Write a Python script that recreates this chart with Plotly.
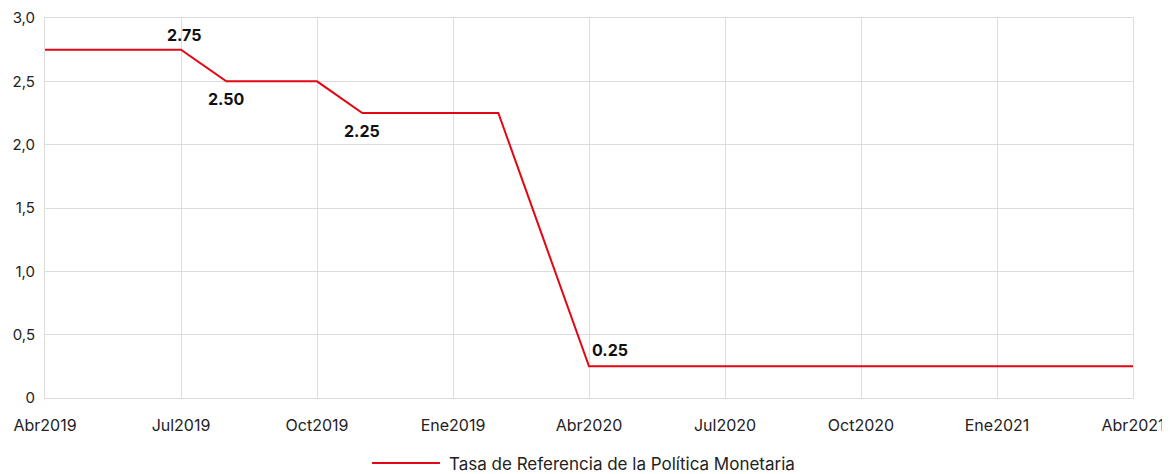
import plotly.graph_objects as go

months = ["Abr2019", "May2019", "Jun2019", "Jul2019", "Ago2019", "Sep2019", "Oct2019",
          "Nov2019", "Dic2019", "Ene2020", "Feb2020", "Mar2020", "Abr2020", "May2020",
          "Jun2020", "Jul2020", "Ago2020", "Sep2020", "Oct2020", "Nov2020", "Dic2020",
          "Ene2021", "Feb2021", "Mar2021", "Abr2021"]
rate = [2.75, 2.75, 2.75, 2.75, 2.50, 2.50, 2.50,
        2.25, 2.25, 2.25, 2.25, 1.25, 0.25, 0.25,
        0.25, 0.25, 0.25, 0.25, 0.25, 0.25, 0.25,
        0.25, 0.25, 0.25, 0.25]
tick_idx = [0, 3, 6, 9, 12, 15, 18, 21, 24]
tick_text = ["Abr2019", "Jul2019", "Oct2019", "Ene2019", "Abr2020", "Jul2020", "Oct2020", "Ene2021", "Abr2021"]
y_ticks = [0, 0.5, 1.0, 1.5, 2.0, 2.5, 3.0]
y_text = ["0", "0,5", "1,0", "1,5", "2,0", "2,5", "3,0"]
label_idx = [3, 4, 7, 12]
label_text = ["2.75", "2.50", "2.25", "0.25"]
label_pos = ["top", "bottom", "bottom", "topright"]
series_name = "Tasa de Referencia de la Política Monetaria"

x = list(range(len(months)))
FONT = "Inter, Lato, sans-serif"
RED = "#e30613"
GRID = "#dcdcdc"

fig = go.Figure()
fig.add_trace(go.Scatter(
    x=x, y=rate, mode="lines", name=series_name, showlegend=False,
    line=dict(color=RED, width=2), hoverinfo="skip"))

for i, t, p in zip(label_idx, label_text, label_pos):
    if p == "top":
        xs, ys, xa, ya = 3, 3, "center", "bottom"
    elif p == "bottom":
        xs, ys, xa, ya = 0, -6, "center", "top"
    else:
        xs, ys, xa, ya = 1, 4, "left", "bottom"
    fig.add_annotation(x=x[i], y=rate[i], text=f"<b>{t}</b>", showarrow=False,
                       xshift=xs, yshift=ys, xanchor=xa, yanchor=ya,
                       font=dict(family=FONT, size=16, color="#111111"))

# legend replica (wider line sample than plotly's native legend)
fig.add_shape(type="line", xref="paper", yref="paper",
              x0=0.3006, x1=0.363, y0=-0.171, y1=-0.171,
              line=dict(color=RED, width=2))
fig.add_annotation(xref="paper", yref="paper", x=0.3695, y=-0.174,
                   xanchor="left", yanchor="middle", showarrow=False,
                   text=series_name, font=dict(family=FONT, size=17, color="#222222"))

# page body has an 8px margin, so the figure is sized/placed to land on the same pixels
fig.update_layout(
    width=1162, height=466,
    margin=dict(l=37, r=37, t=10, b=76),
    paper_bgcolor="white", plot_bgcolor="white",
    font=dict(family=FONT, size=14, color="#222222"),
    showlegend=False,
)
fig.update_xaxes(range=[0, 24], tickmode="array", tickvals=tick_idx, ticktext=tick_text,
                 showgrid=True, gridcolor=GRID, gridwidth=1, zeroline=False,
                 showline=True, linecolor=GRID, linewidth=1, mirror=True,
                 automargin=False, ticklabeloverflow="allow",
                 ticks="outside", ticklen=13, tickcolor="rgba(0,0,0,0)",
                 tickfont=dict(family=FONT, size=16, color="#222222"))
fig.update_yaxes(range=[0, 3.0], tickmode="array", tickvals=y_ticks, ticktext=y_text,
                 showgrid=True, gridcolor=GRID, gridwidth=1, zeroline=False,
                 showline=True, linecolor=GRID, linewidth=1, mirror=True,
                 automargin=False, ticklabeloverflow="allow",
                 ticks="outside", ticklen=6, tickcolor="rgba(0,0,0,0)",
                 tickfont=dict(family=FONT, size=15, color="#222222"))

fig.write_html("out.html")
